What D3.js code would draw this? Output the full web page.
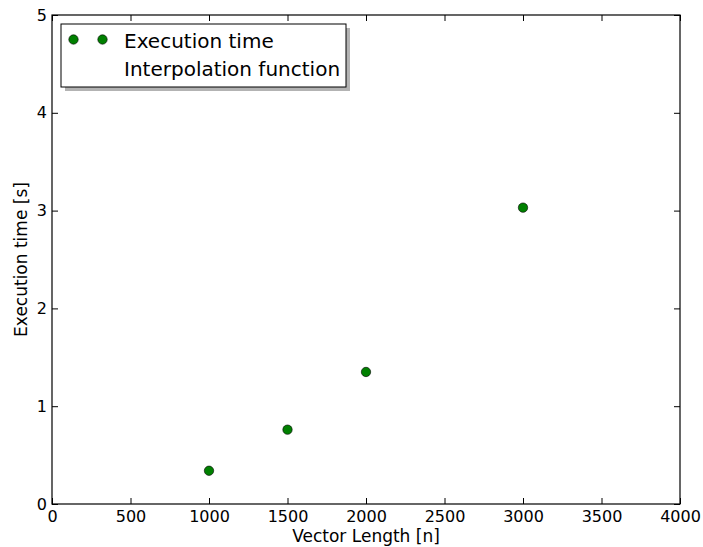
<!DOCTYPE html>
<html>
<head>
<meta charset="utf-8">
<script src="https://cdn.jsdelivr.net/npm/d3@7"></script>
<style>
  body { margin: 0; background: #fff; }
  text { font-family: "DejaVu Sans", sans-serif; fill: #000; }
</style>
</head>
<body>
<script>
// data
var vectorLength = [1000, 1500, 2000, 3000];
var execTime = [0.34, 0.76, 1.35, 3.03];
var xTicks = [0, 500, 1000, 1500, 2000, 2500, 3000, 3500, 4000];
var yTicks = [0, 1, 2, 3, 4, 5];
var legendLabels = ["Execution time", "Interpolation function"];

var width = 703, height = 547;
var margin = {left: 52, right: 23, top: 15, bottom: 43};

var svg = d3.select('body').append('svg')
    .attr('width', width)
    .attr('height', height);

var x = d3.scaleLinear().domain([0, 4000]).range([margin.left, width - margin.right]);
var y = d3.scaleLinear().domain([0, 5]).range([height - margin.bottom, margin.top]);

var tick = 6;
var fmt = d3.format('d');

// bottom axis
var axisB = d3.axisBottom(x).tickValues(xTicks).tickFormat(fmt).tickSizeInner(-tick).tickSizeOuter(0).tickPadding(7);
var gB = svg.append('g').attr('transform', `translate(0,${y(0)})`).call(axisB);
// top axis (ticks only)
var axisT = d3.axisTop(x).tickValues(xTicks).tickSizeInner(-tick).tickSizeOuter(0).tickFormat('');
var gT = svg.append('g').attr('transform', `translate(0,${y(5)})`).call(axisT);
// left axis
var axisL = d3.axisLeft(y).tickValues(yTicks).tickFormat(fmt).tickSizeInner(-tick).tickSizeOuter(0).tickPadding(5);
var gL = svg.append('g').attr('transform', `translate(${x(0)},0)`).call(axisL);
// right axis (ticks only)
var axisR = d3.axisRight(y).tickValues(yTicks).tickSizeInner(-tick).tickSizeOuter(0).tickFormat('');
var gR = svg.append('g').attr('transform', `translate(${x(4000)},0)`).call(axisR);

[gB, gT, gL, gR].forEach(g => {
    g.select('.domain').remove();
    g.selectAll('line').attr('stroke', '#000').attr('stroke-width', 1);
    g.selectAll('text').style('font-size', '16px').style('font-family', '"DejaVu Sans", sans-serif').attr('fill', '#000');
});
gB.selectAll('text').attr('dy', '0.71em');

// frame
svg.append('rect')
    .attr('x', x(0)).attr('y', y(5))
    .attr('width', x(4000) - x(0)).attr('height', y(0) - y(5))
    .attr('fill', 'none').attr('stroke', '#000').attr('stroke-width', 1.2);

// points
svg.selectAll('circle.pt')
    .data(vectorLength).enter()
    .append('circle')
    .attr('class', 'pt')
    .attr('cx', d => x(d))
    .attr('cy', (d, i) => y(execTime[i]))
    .attr('r', 4.7)
    .attr('fill', '#008000')
    .attr('stroke', '#000')
    .attr('stroke-width', 0.6);

// axis labels
svg.append('text')
    .attr('x', (x(0) + x(4000)) / 2)
    .attr('y', 542)
    .attr('text-anchor', 'middle')
    .style('font-size', '17px')
    .text('Vector Length [n]');

svg.append('text')
    .attr('transform', `translate(27,${(y(0) + y(5)) / 2}) rotate(-90)`)
    .attr('text-anchor', 'middle')
    .style('font-size', '17px')
    .text('Execution time [s]');

// legend
var lx = 61, ly = 24, lw = 285, lh = 63;
svg.append('rect')
    .attr('x', lx + 4).attr('y', ly + 4)
    .attr('width', lw).attr('height', lh)
    .attr('fill', '#b3b3b3');
svg.append('rect')
    .attr('x', lx).attr('y', ly)
    .attr('width', lw).attr('height', lh)
    .attr('fill', '#fff').attr('stroke', '#000').attr('stroke-width', 1);

[73.5, 102.5].forEach(cx => {
    svg.append('circle')
        .attr('cx', cx).attr('cy', 39.5)
        .attr('r', 4.7)
        .attr('fill', '#008000')
        .attr('stroke', '#000')
        .attr('stroke-width', 0.6);
});

svg.selectAll('text.leg')
    .data(legendLabels).enter()
    .append('text')
    .attr('class', 'leg')
    .attr('x', 124)
    .attr('y', (d, i) => 48 + i * 27.5)
    .style('font-size', '20px')
    .text(d => d);
</script>
</body>
</html>
